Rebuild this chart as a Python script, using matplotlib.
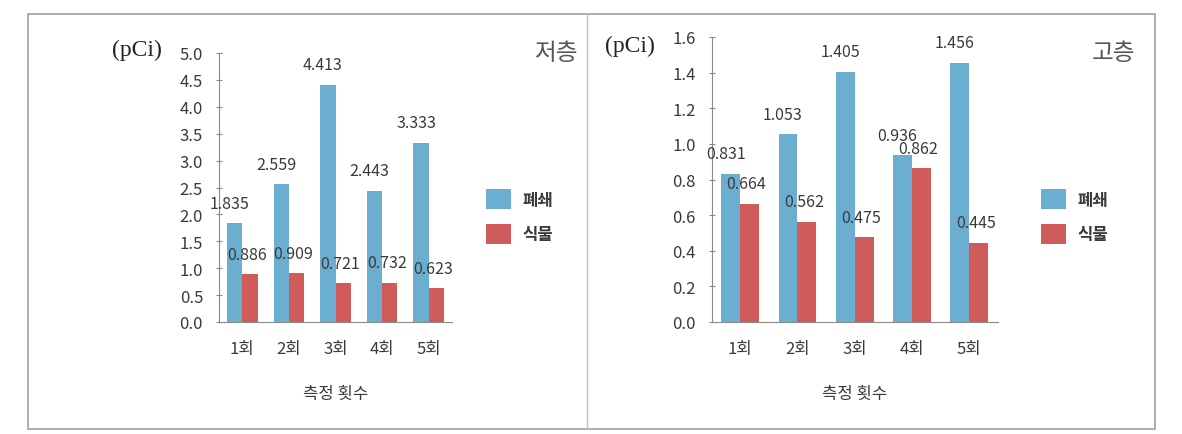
import matplotlib
matplotlib.use("Agg")
import matplotlib.pyplot as plt
from matplotlib.patches import Rectangle
from matplotlib.lines import Line2D
import numpy as np

plt.rcParams['font.family'] = ['Noto Sans CJK KR', 'DejaVu Sans']

categories = ['1회', '2회', '3회', '4회', '5회']
series_names = ['폐쇄', '식물']
low_closed = [1.835, 2.559, 4.413, 2.443, 3.333]
low_plant = [0.886, 0.909, 0.721, 0.732, 0.623]
high_closed = [0.831, 1.053, 1.405, 0.936, 1.456]
high_plant = [0.664, 0.562, 0.475, 0.862, 0.445]
low_yticks = [0.0, 0.5, 1.0, 1.5, 2.0, 2.5, 3.0, 3.5, 4.0, 4.5, 5.0]
high_yticks = [0.0, 0.2, 0.4, 0.6, 0.8, 1.0, 1.2, 1.4, 1.6]

BLUE = '#6BAED0'
RED = '#D05B5B'
TXT = '#3a3a3a'
AX = '#8a8a8a'

W, H = 1182, 435
fig = plt.figure(figsize=(W / 100, H / 100), dpi=100)

def fx(px):
    return px / W

def fy(py):
    return 1 - py / H

def panel(x0, x1, ytop, ybot, ymax, yticks, s1, s2, title, title_x, pci_x, pci_y, leg_x):
    ax = fig.add_axes([fx(x0), fy(ybot), fx(x1) - fx(x0), fy(ytop) - fy(ybot)])
    x = np.arange(len(categories))
    w = 0.33
    b1 = ax.bar(x - w / 2, s1, w, color=BLUE, label=series_names[0])
    b2 = ax.bar(x + w / 2, s2, w, color=RED, label=series_names[1])
    for bars, vals, dx in ((b1, s1, -5), (b2, s2, -3)):
        for r, v in zip(bars, vals):
            ax.annotate(f'{v:.3f}', (r.get_x() + r.get_width() / 2, v),
                        xytext=(dx, 20), textcoords='offset pixels',
                        ha='center', va='center', fontsize=11.5, color=TXT)
    ax.set_xlim(-0.5, len(categories) - 0.5)
    ax.set_ylim(0, ymax)
    ax.set_yticks(yticks)
    ax.set_yticklabels([f'{t:.1f}' for t in yticks])
    ax.set_xticks(x)
    ax.set_xticklabels(categories)
    ax.tick_params(axis='y', direction='inout', length=5, color=AX, labelsize=12,
                   labelcolor=TXT, pad=9)
    ax.tick_params(axis='x', length=0, labelsize=12, labelcolor=TXT, pad=13)
    ax.set_xlabel('측정 횟수', fontsize=12, color=TXT, labelpad=20)
    for s in ('top', 'right'):
        ax.spines[s].set_visible(False)
    for s in ('left', 'bottom'):
        ax.spines[s].set_color(AX)
    ax.patch.set_alpha(0)
    ax.legend(loc='upper left', bbox_to_anchor=(fx(leg_x), fy(190)),
              bbox_transform=fig.transFigure, frameon=False,
              prop={'size': 12, 'weight': 'bold'},
              handlelength=1.5, handleheight=1.5, labelspacing=0.85,
              handletextpad=0.7, borderpad=0, borderaxespad=0,
              labelcolor=TXT)
    fig.text(fx(title_x), fy(54), title, fontsize=17, color='#555555',
             ha='center', va='center')
    fig.text(fx(pci_x), fy(pci_y), '(pCi)', fontsize=17, color='#222222',
             ha='center', va='center', family='Liberation Serif')
    return ax

panel(219, 452, 54, 323, 5.0, low_yticks, low_closed, low_plant,
      '저층', 556, 137, 50, 486)
panel(711.5, 998, 38, 323, 1.6, high_yticks, high_closed, high_plant,
      '고층', 1114, 630, 46, 1041)

fig.add_artist(Rectangle((fx(28), fy(430)), fx(1155) - fx(28), fy(15) - fy(430),
                         transform=fig.transFigure, fill=False,
                         edgecolor='#a0a0a0', lw=1.2))
fig.add_artist(Line2D([fx(587), fx(587)], [fy(430), fy(15)],
                      transform=fig.transFigure, color='#c0c0c0', lw=1))

fig.savefig('out.png', dpi=100)
